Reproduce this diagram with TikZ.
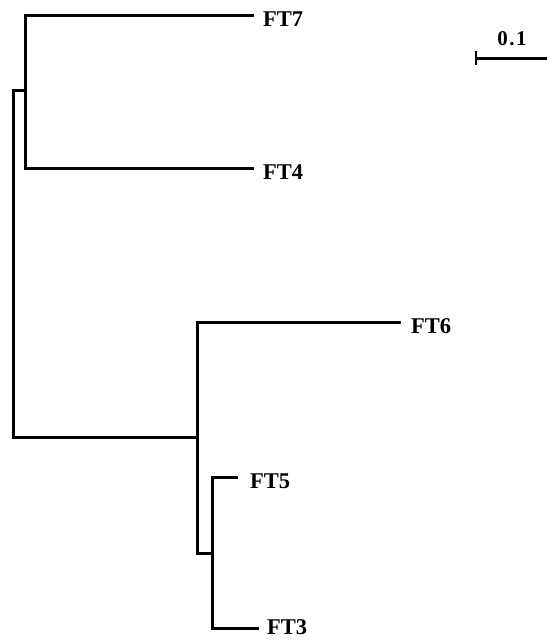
\documentclass[tikz,border=0pt]{standalone}
\usepackage{fontspec}
\setmainfont{Liberation Serif}
\begin{document}
\begin{tikzpicture}[x=1pt,y=-1pt,
  br/.style={line width=3pt,line cap=rect},
  leaf/.style={anchor=west,inner sep=0pt,font=\fontsize{22.5}{22.5}\selectfont\bfseries}]
\useasboundingbox (0,0) rectangle (547,641);
% internal nodes
\coordinate (root) at (13,437);
\coordinate (n1) at (25,90);
\coordinate (n2) at (197,437);
\coordinate (n3) at (212,553);
% leaf tips
\coordinate (t7) at (252,15);
\coordinate (t4) at (252,168);
\coordinate (t6) at (399,322);
\coordinate (t5) at (236,477);
\coordinate (t3) at (257,628);
% labels
\node[leaf] (FT7) at (263,19.5) {FT7};
\node[leaf] (FT4) at (263,172.5) {FT4};
\node[leaf] (FT6) at (411,326.5) {FT6};
\node[leaf] (FT5) at (250,481.5) {FT5};
\node[leaf] (FT3) at (267,627) {FT3};
% branches
\draw[br] (root) |- (n1);
\draw[br] (root) -- (n2);
\draw[br] (t7) -| (n1) |- (t4);
\draw[br] (t6) -| (n2) |- (n3);
\draw[br] (t5) -| (n3) |- (t3);
% scale bar
\coordinate (s0) at (476,58);
\coordinate (s1) at (547,58);
\draw[line width=3pt] (s0) -- (s1);
\draw[line width=2.6pt] (476,51) -- (476,65);
\node[font=\fontsize{21}{21}\selectfont\bfseries,inner sep=0pt] (sl) at (512,39) {0\kern1.5pt.\kern1.5pt1};
\end{tikzpicture}
\end{document}
